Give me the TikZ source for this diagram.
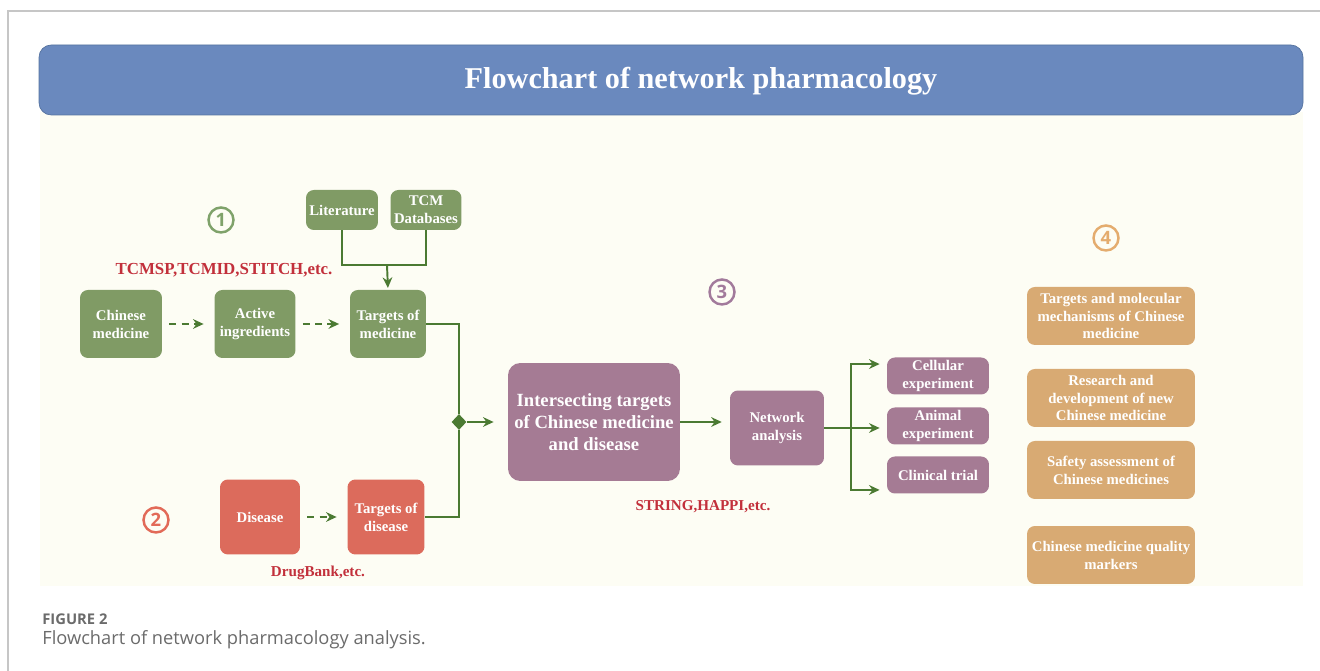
\documentclass[tikz,border=0pt]{standalone}
\usepackage{fontspec}
\setmainfont{Liberation Serif}
\newfontfamily\capfont{Open Sans}
\usetikzlibrary{arrows.meta,shapes.geometric}
\definecolor{bgcream}{HTML}{FDFDF4}
\definecolor{headblue}{HTML}{6A89BE}
\definecolor{headedge}{HTML}{56739F}
\definecolor{tgreen}{HTML}{809B65}
\definecolor{tred}{HTML}{DC6B5C}
\definecolor{tpurp}{HTML}{A57B94}
\definecolor{torange}{HTML}{D8AA73}
\definecolor{lgreen}{HTML}{4B7A32}
\definecolor{lblred}{HTML}{C2303B}
\definecolor{cgreen}{HTML}{7FA26A}
\definecolor{cred}{HTML}{E26A58}
\definecolor{cpurp}{HTML}{A27A9B}
\definecolor{corange}{HTML}{E4AC6E}
\definecolor{framegray}{HTML}{C6C6C6}
\definecolor{capgray}{HTML}{6B6B6B}
\tikzset{
  box/.style={rounded corners=4.5pt,text=white,align=center,inner sep=0pt,
    font=\fontsize{8.4}{10.2}\selectfont\bfseries},
  gbox/.style={box,fill=tgreen},
  rbox/.style={box,fill=tred},
  pbox/.style={box,fill=tpurp},
  obox/.style={box,fill=torange,minimum width=3.36cm,minimum height=1.16cm},
  ebox/.style={pbox,minimum width=2.04cm,minimum height=0.74cm},
  dblabel/.style={text=lblred,font=\fontsize{8.6}{10}\selectfont\bfseries},
  numcirc/.style={circle,draw=#1,text=#1,line width=1.4pt,inner sep=0pt,
    minimum size=0.5cm,font=\capfont\fontsize{10.5}{10.5}\selectfont\bfseries},
  ln/.style={draw=lgreen,line width=1.1pt},
  arr/.style={ln,->},
  dasharr/.style={ln,->,dash pattern=on 4pt off 3pt}
}
\begin{document}
\begin{tikzpicture}[x=0.02cm,y=-0.02cm,>={Stealth[length=6pt,width=5.5pt]}]
\useasboundingbox (0,0) rectangle (1320,671);
% frame and panels
\draw[framegray,line width=0.8pt] (1320,11) -- (8,11) -- (8,671);
\fill[bgcream] (40,112) rectangle (1303,586);
\draw[headedge,fill=headblue,rounded corners=7pt] (39,45) rectangle (1303,115);
\node[text=white,font=\fontsize{17.2}{19}\selectfont\bfseries]
  (head) at (701,81) {Flowchart of network pharmacology};
% step numbers
\node[numcirc=cgreen] (n1) at (221,220) {1};
\node[numcirc=cred] (n2) at (156,520) {2};
\node[numcirc=cpurp] (n3) at (722,292) {3};
\node[numcirc=corange] (n4) at (1106,238) {4};
% medicine branch
\node[gbox,minimum width=1.64cm,minimum height=1.36cm] (cm) at (121,324) {Chinese\\medicine};
\node[gbox,minimum width=1.62cm,minimum height=1.36cm] (ai) at (255,324) {Active\\ingredients};
\node[gbox,minimum width=1.52cm,minimum height=1.36cm] (tm) at (388,324) {Targets of\\medicine};
\node[gbox,minimum width=1.44cm,minimum height=0.8cm] (lit) at (342,210) {Literature};
\node[gbox,minimum width=1.42cm,minimum height=0.8cm] (tcm) at (426,210) {TCM\\Databases};
\node[dblabel,font=\fontsize{9.6}{10}\selectfont\bfseries] (db1) at (224,270) {TCMSP,TCMID,STITCH,etc.};
% disease branch
\node[rbox,minimum width=1.6cm,minimum height=1.5cm] (dis) at (260,517) {Disease};
\node[rbox,minimum width=1.54cm,minimum height=1.5cm] (td) at (386,517) {Targets of\\disease};
\node[dblabel] (db2) at (318,573) {DrugBank,etc.};
% network part
\node[diamond,fill=lgreen,inner sep=0pt,minimum width=0.3cm,minimum height=0.32cm] (jn) at (459,422) {};
\node[pbox,minimum width=3.44cm,minimum height=2.36cm,rounded corners=7pt,
  font=\fontsize{10.6}{12.6}\selectfont\bfseries] (ix) at (594,422)
  {Intersecting targets\\of Chinese medicine\\and disease};
\node[pbox,minimum width=1.88cm,minimum height=1.5cm] (na) at (777,428) {Network\\analysis};
\node[dblabel] (db3) at (703,507) {STRING,HAPPI,etc.};
\node[ebox] (ce) at (938,376) {Cellular\\experiment};
\node[ebox] (ae) at (938,426) {Animal\\experiment};
\node[ebox] (ct) at (938,475) {Clinical trial};
\coordinate (br) at (851,428);
\coordinate (mg) at (387,265);
% applications
\node[obox] (ap1) at (1111,316) {Targets and molecular\\mechanisms of Chinese\\medicine};
\node[obox] (ap2) at (1111,398) {Research and\\development of new\\Chinese medicine};
\node[obox] (ap3) at (1111,470) {Safety assessment of\\Chinese medicines};
\node[obox] (ap4) at (1111,555) {Chinese medicine quality\\markers};
% connectors
\draw[dasharr,shorten <=4pt,shorten >=6pt] (cm) -- (ai);
\draw[dasharr,shorten <=4pt,shorten >=6pt] (ai) -- (tm);
\draw[dasharr,shorten <=4pt,shorten >=6pt] (dis) -- (td);
\draw[ln] (lit.south) |- (mg) -| (tcm.south);
\draw[arr,shorten >=1pt] (mg) -- (tm.north);
\draw[ln] (tm.east) -| (jn.north);
\draw[ln] (td.east) -| (jn.south);
\draw[arr,shorten >=8pt] (jn) -- (ix);
\draw[arr,shorten >=4.5pt] (ix) -- (ix -| na.west);
\draw[ln] (na.east) -- (br);
\draw[arr,shorten >=4pt] (br) |- ([yshift=6.8pt]ce.west);
\draw[arr,shorten >=4pt] (br) -- (br -| ae.west);
\draw[arr,shorten >=4pt] (br) |- ([yshift=-8.5pt]ct.west);
% caption
\node[anchor=base west,inner sep=0pt,text=capgray,font=\capfont\fontsize{8.4}{10}\selectfont\bfseries]
  (fig) at (42,625) {FIGURE 2};
\node[anchor=base west,inner sep=0pt,text=capgray,font=\capfont\fontsize{10.4}{12}\selectfont]
  (cap) at (42,645) {Flowchart of network pharmacology analysis.};
\end{tikzpicture}
\end{document}
